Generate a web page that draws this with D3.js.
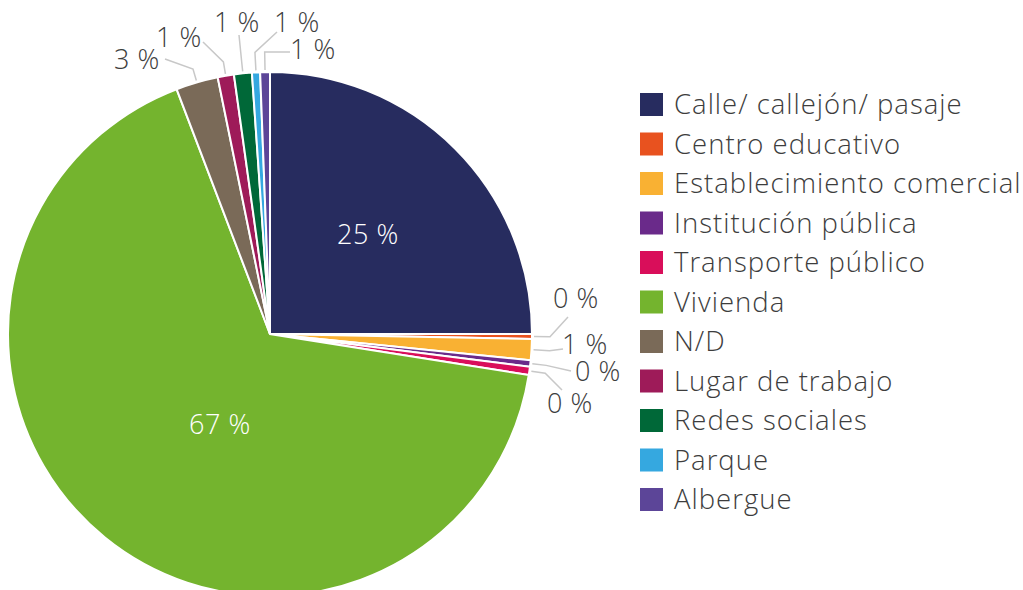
<!DOCTYPE html>
<html>
<head>
<meta charset="utf-8">
<script src="https://cdn.jsdelivr.net/npm/d3@7"></script>
<style>
  body { margin: 0; background: #fff; }
  text { font-family: "Open Sans", sans-serif; font-weight: 300; }
</style>
</head>
<body>
<div id="chart"></div>
<script>
const categories = ["Calle/ callejón/ pasaje", "Centro educativo", "Establecimiento comercial",
  "Institución pública", "Transporte público", "Vivienda", "N/D", "Lugar de trabajo",
  "Redes sociales", "Parque", "Albergue"];
const values = [25, 0.3, 1.3, 0.4, 0.5, 66.7, 2.6, 1.0, 1.1, 0.5, 0.6];
const labels = ["25 %", "0 %", "1 %", "0 %", "0 %", "67 %", "3 %", "1 %", "1 %", "1 %", "1 %"];
const colors = ["#272c5f", "#e8521f", "#f9b133", "#6a2a8a", "#d90e5a", "#74b42e",
  "#7a6a58", "#9e1b59", "#006838", "#35a8e0", "#5c4598"];

// label placement relative to pie centre: text centre, leader end, elbow distance
const labelLayout = [
  {inside: true, tx: 98, ty: -99},
  {tx: 306, ty: -35, ex: 298, ey: -17, elbow: 18},
  {tx: 315, ty: 11, ex: 293, ey: 15, elbow: 18},
  {tx: 328, ty: 38, ex: 301, ey: 37, elbow: 16},
  {tx: 300, ty: 70, ex: 292, ey: 56, elbow: 16},
  {inside: true, tx: -50, ty: 91},
  {tx: -133, ty: -274, ex: -105, ey: -275, elbow: 14},
  {tx: -91, ty: -296, ex: -67, ey: -292, elbow: 14},
  {tx: -33, ty: -311, ex: -31, ey: -299, elbow: 12},
  {tx: 27, ty: -311, ex: 7, ey: -302, elbow: 20},
  {tx: 43, ty: -284, ex: 20, ey: -282, elbow: 20}
];

const width = 1023, height = 590;
const cx = 270, cy = 334, radius = 262;
const textColor = "#3d3d3d";

const svg = d3.select("#chart")
  .append("svg")
    .attr("width", width)
    .attr("height", height);

const data = categories.map((c, i) => ({name: c, value: values[i], label: labels[i], color: colors[i], lay: labelLayout[i]}));

const pie = d3.pie().sort(null).value(d => d.value);
const arc = d3.arc().innerRadius(0).outerRadius(radius);
const arcs = pie(data);

const g = svg.append("g").attr("transform", `translate(${cx},${cy})`);

g.selectAll("path")
  .data(arcs)
  .join("path")
    .attr("d", arc)
    .attr("fill", d => d.data.color)
    .attr("stroke", "#fff")
    .attr("stroke-width", 2);

function polar(a, r) { return [Math.sin(a) * r, -Math.cos(a) * r]; }

// leader lines
const outside = arcs.filter(d => !d.data.lay.inside);
g.selectAll("polyline")
  .data(outside)
  .join("polyline")
    .attr("points", d => {
      const mid = (d.startAngle + d.endAngle) / 2;
      const p0 = polar(mid, radius + 2);
      const p1 = polar(mid, radius + d.data.lay.elbow);
      return [p0, p1, [d.data.lay.ex, d.data.lay.ey]].map(p => p.join(",")).join(" ");
    })
    .attr("fill", "none")
    .attr("stroke", "#c8c8c8")
    .attr("stroke-width", 1.5);

g.selectAll("text.lbl")
  .data(arcs)
  .join("text")
    .attr("class", "lbl")
    .attr("x", d => d.data.lay.tx)
    .attr("y", d => d.data.lay.ty)
    .attr("dy", "0.35em")
    .attr("text-anchor", "middle")
    .attr("font-size", 27)
    .attr("letter-spacing", 0.6)
    .attr("fill", d => d.data.lay.inside ? "#fff" : textColor)
    .text(d => d.data.label);

// legend
const legend = svg.append("g").attr("transform", "translate(640,104.5)");
const rows = legend.selectAll("g")
  .data(data)
  .join("g")
    .attr("transform", (d, i) => `translate(0,${i * 39.5})`);
rows.append("rect")
  .attr("x", 0).attr("y", -11.5)
  .attr("width", 23).attr("height", 23)
  .attr("fill", d => d.color);
rows.append("text")
  .attr("x", 34)
  .attr("dy", "0.35em")
  .attr("font-size", 27.5)
  .attr("letter-spacing", 1.0)
  .attr("fill", textColor)
  .text(d => d.name);
</script>
</body>
</html>
